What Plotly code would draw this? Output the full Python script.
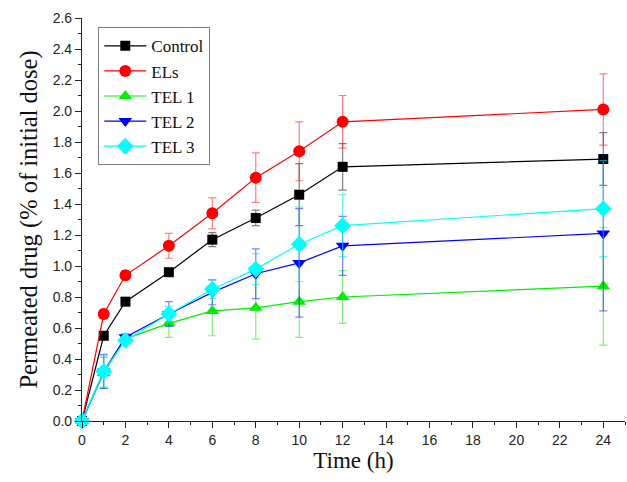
import plotly.graph_objects as go

# Sampling times (h)
time_h = [0, 1, 2, 4, 6, 8, 10, 12, 24]

# Cumulative permeated drug (% of initial dose) and standard deviations
control = [0.0, 0.55, 0.77, 0.96, 1.17, 1.31, 1.46, 1.64, 1.69]
control_sd = [0.0, 0.02, 0.02, 0.02, 0.045, 0.05, 0.20, 0.15, 0.17]

els = [0.0, 0.69, 0.94, 1.13, 1.34, 1.57, 1.74, 1.93, 2.01]
els_sd = [0.0, 0.03, 0.03, 0.08, 0.10, 0.16, 0.19, 0.17, 0.23]

tel1 = [0.0, 0.31, 0.53, 0.63, 0.71, 0.73, 0.77, 0.80, 0.87]
tel1_sd = [0.0, 0.10, 0.03, 0.09, 0.16, 0.20, 0.23, 0.17, 0.38]

tel2 = [0.0, 0.32, 0.54, 0.69, 0.83, 0.95, 1.02, 1.13, 1.21]
tel2_sd = [0.0, 0.11, 0.02, 0.08, 0.08, 0.16, 0.35, 0.19, 0.50]

tel3 = [0.0, 0.32, 0.52, 0.69, 0.85, 0.98, 1.14, 1.26, 1.37]
tel3_sd = [0.0, 0.10, 0.02, 0.05, 0.06, 0.10, 0.24, 0.20, 0.31]

series_names = ["Control", "ELs", "TEL 1", "TEL 2", "TEL 3"]

series = [
    (series_names[0], control, control_sd, "#000000", "rgba(0,0,0,0.5)", "square", 10),
    (series_names[1], els, els_sd, "#ff0000", "rgba(255,0,0,0.5)", "circle", 12),
    (series_names[2], tel1, tel1_sd, "#00ee00", "rgba(0,220,0,0.5)", "triangle-up", 12),
    (series_names[3], tel2, tel2_sd, "#0000ff", "rgba(0,0,255,0.5)", "triangle-down", 12),
    (series_names[4], tel3, tel3_sd, "#00ffff", "rgba(0,230,230,0.6)", "diamond", 13),
]

SERIF = "Liberation Serif"
SANS = "Liberation Sans"

fig = go.Figure()
for name, vals, sd, color, ecolor, symbol, size in series:
    fig.add_trace(go.Scatter(
        x=time_h, y=vals, name=name,
        mode="lines+markers",
        line=dict(color=color, width=1.2),
        marker=dict(symbol=symbol, size=size, color=color,
                    line=dict(width=0)),
        error_y=dict(type="data", array=sd, visible=True,
                     color=ecolor, thickness=1.2, width=4),
        cliponaxis=False,
    ))

axis_font = dict(family=SANS, size=14, color="#222222")

fig.update_layout(
    width=627, height=482,
    margin=dict(l=82, r=2, t=18, b=61),
    plot_bgcolor="white", paper_bgcolor="white",
    font=dict(family=SERIF, color="#111111"),
    showlegend=True,
    legend=dict(
        x=0.03, y=0.977, xanchor="left", yanchor="top",
        bgcolor="white", bordercolor="#808080", borderwidth=1,
        font=dict(family=SERIF, size=17, color="#111111"),
        tracegroupgap=0, itemwidth=42,
    ),
    xaxis=dict(
        range=[0, 25], tickmode="array", tickvals=list(range(0, 25, 2)),
        ticks="outside", ticklen=6, tickwidth=1.2, tickcolor="#222222",
        minor=dict(dtick=1, ticks="outside", ticklen=3, tickcolor="#222222", tickwidth=1),
        showline=True, linecolor="#222222", linewidth=1.2,
        showgrid=False, zeroline=False, tickfont=axis_font,
        title=dict(text="Time (h)", font=dict(family=SERIF, size=23, color="#111111"),
                   standoff=4),
    ),
    yaxis=dict(
        range=[0, 2.6], tick0=0, dtick=0.2, tickformat=".1f",
        ticks="outside", ticklen=6, tickwidth=1.2, tickcolor="#222222",
        minor=dict(dtick=0.1, ticks="outside", ticklen=3, tickcolor="#222222", tickwidth=1),
        showline=True, linecolor="#222222", linewidth=1.2,
        showgrid=False, zeroline=False, tickfont=axis_font,
        title=dict(text="Permeated drug (% of initial dose)",
                   font=dict(family=SERIF, size=24.5, color="#111111"), standoff=8),
    ),
)

fig.write_html("out.html")
